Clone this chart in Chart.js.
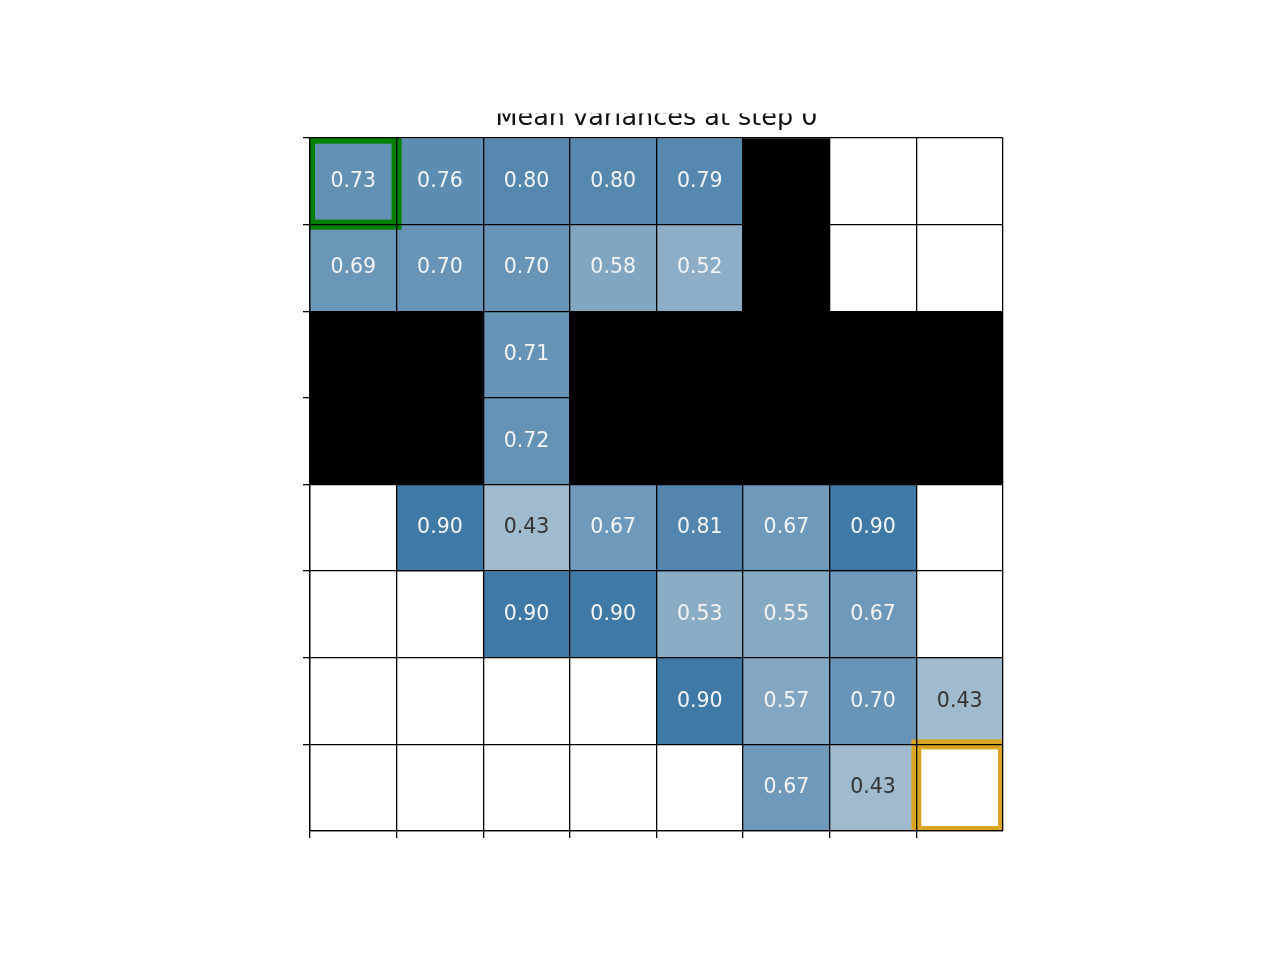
<!DOCTYPE html>
<html>
<head>
<meta charset="utf-8">
<script src="https://cdn.jsdelivr.net/npm/chart.js@4/dist/chart.umd.min.js"></script>
<style>
  html, body { margin: 0; padding: 0; background: #ffffff; }
  #wrap { width: 1280px; height: 960px; }
</style>
</head>
<body>
<div id="wrap"><canvas id="c" width="1280" height="960"></canvas></div>
<script>
// ---- data ----
const titleText = 'Mean variances at step 0';
const colLabels = ['0', '1', '2', '3', '4', '5', '6', '7'];
const WALL = -1;           // black (blocked) cell
// null = empty (white) cell
const row0 = [0.73, 0.76, 0.80, 0.80, 0.79, WALL, null, null];
const row1 = [0.69, 0.70, 0.70, 0.58, 0.52, WALL, null, null];
const row2 = [WALL, WALL, 0.71, WALL, WALL, WALL, WALL, WALL];
const row3 = [WALL, WALL, 0.72, WALL, WALL, WALL, WALL, WALL];
const row4 = [null, 0.90, 0.43, 0.67, 0.81, 0.67, 0.90, null];
const row5 = [null, null, 0.90, 0.90, 0.53, 0.55, 0.67, null];
const row6 = [null, null, null, null, 0.90, 0.57, 0.70, 0.43];
const row7 = [null, null, null, null, null, 0.67, 0.43, null];
const rows = [row0, row1, row2, row3, row4, row5, row6, row7];
const startCell = [0, 0];  // [row, col]
const goalCell = [7, 7];   // [row, col]

// ---- styling helpers ----
const LO_V = 0.43, HI_V = 0.90;
const LO_C = [160, 186, 206], HI_C = [63, 122, 166];
function cellColor(v) {
  if (v === null) return '#ffffff';
  if (v === WALL) return '#000000';
  let t = (v - LO_V) / (HI_V - LO_V);
  t = Math.max(0, Math.min(1, t));
  const c = LO_C.map((lo, i) => Math.round(lo + (HI_C[i] - lo) * t));
  return `rgb(${c[0]},${c[1]},${c[2]})`;
}

const datasets = rows.map((vals, r) => ({
  label: 'row ' + r,
  data: vals.map(() => [r, r + 1]),
  backgroundColor: vals.map(cellColor),
  borderWidth: 0,
  barPercentage: 1,
  categoryPercentage: 1,
  grouped: false
}));

const cellText = {
  id: 'cellText',
  afterDatasetsDraw(chart) {
    const ctx = chart.ctx;
    const fs = 20.5;
    ctx.save();
    ctx.font = fs + 'px "DejaVu Sans"';
    ctx.textAlign = 'center';
    ctx.textBaseline = 'alphabetic';
    rows.forEach((vals, r) => {
      const meta = chart.getDatasetMeta(r);
      vals.forEach((v, c) => {
        if (v === null || v === WALL) return;
        const el = meta.data[c];
        const cx = el.x;
        const cy = (el.y + el.base) / 2;
        ctx.fillStyle = v < 0.5 ? '#333333' : '#f4f4f4';
        ctx.fillText(v.toFixed(2), cx, cy - 2 + 0.3645 * fs);
      });
    });
    // highlight boxes
    const a = chart.chartArea;
    ctx.beginPath();
    ctx.rect(a.left, a.top, a.right - a.left, a.bottom - a.top);
    ctx.clip();
    function box(cell, color) {
      const el = chart.getDatasetMeta(cell[0]).data[cell[1]];
      const w = el.width;
      const x0 = el.x - w / 2;
      const y0 = Math.min(el.y, el.base), y1 = Math.max(el.y, el.base);
      ctx.strokeStyle = color;
      ctx.lineWidth = 10;
      ctx.strokeRect(x0, y0, w, y1 - y0);
    }
    box(startCell, '#008000');
    box(goalCell, '#daa520');
    ctx.restore();
  }
};

// title whose upper part is cut off, as in the reference
const clippedTitle = {
  id: 'clippedTitle',
  afterDraw(chart) {
    const ctx = chart.ctx;
    const a = chart.chartArea;
    ctx.save();
    ctx.beginPath();
    ctx.rect(0, 113.5, chart.width, a.top - 113.5);
    ctx.clip();
    ctx.font = '25.5px "DejaVu Sans"';
    ctx.fillStyle = '#111111';
    ctx.textAlign = 'center';
    ctx.textBaseline = 'alphabetic';
    ctx.fillText(titleText, (a.left + a.right) / 2, 124.5);
    ctx.restore();
  }
};

new Chart(document.getElementById('c'), {
  type: 'bar',
  data: { labels: colLabels, datasets },
  plugins: [cellText, clippedTitle],
  options: {
    responsive: false,
    animation: false,
    events: [],
    layout: { padding: { left: 303, right: 277, top: 138, bottom: 122 } },
    plugins: { legend: { display: false }, title: { display: false }, tooltip: { enabled: false } },
    scales: {
      x: {
        type: 'category',
        offset: true,
        grid: {
          z: 1,
          offset: true,
          color: '#000000',
          lineWidth: 1.3,
          tickLength: 7,
          tickColor: (ctx) => ctx.type === 'tick' ? '#000000' : 'rgba(0,0,0,0)',
          tickWidth: 1.3
        },
        border: { display: true, color: '#000000', width: 1.3, z: 1 },
        ticks: { display: false }
      },
      y: {
        type: 'linear',
        min: 0,
        max: 8,
        reverse: true,
        grid: {
          z: 1,
          color: '#000000',
          lineWidth: 1.3,
          tickLength: 7,
          tickColor: (ctx) => (ctx.tick && ctx.tick.value < 8) ? '#000000' : 'rgba(0,0,0,0)',
          tickWidth: 1.3
        },
        border: { display: true, color: '#000000', width: 1.3, z: 1 },
        ticks: { display: false, stepSize: 1 }
      }
    }
  }
});
</script>
</body>
</html>
